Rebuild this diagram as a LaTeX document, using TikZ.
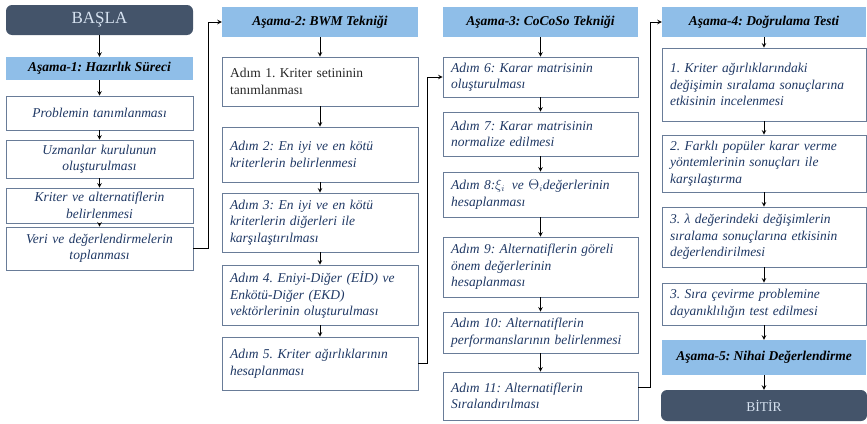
\documentclass[tikz,border=0pt]{standalone}
\usepackage{fontspec}
\setmainfont{Liberation Serif}
\usepackage{tikz}
\usepackage{xcolor}
\definecolor{koyu}{RGB}{68,84,106}
\definecolor{acik}{RGB}{143,190,232}
\definecolor{lacivert}{RGB}{31,56,100}
\definecolor{kenar}{RGB}{105,124,152}
\definecolor{yazi}{RGB}{214,226,240}
\frenchspacing
\tikzset{
  >=stealth,
  kutu/.style={draw=kenar, line width=0.8pt, text=lacivert, inner xsep=8pt, inner ysep=2pt,
    font=\fontsize{13.5}{16.5}\selectfont\itshape},
  orta/.style 2 args={kutu, text width=#1, align=center, minimum height=#2},
  adim/.style 2 args={kutu, text width=#1, align=left, minimum height=#2},
  baslik/.style 2 args={fill=acik, minimum width=#1, minimum height=#2,
    font=\fontsize{13.5}{16}\selectfont\bfseries\itshape},
  uc/.style 2 args={fill=koyu, rounded corners=6pt, text=yazi, minimum width=#1, minimum height=#2},
  ok/.style={->, line width=1pt}
}

\begin{document}
\begin{tikzpicture}[x=1pt, y=-1pt]
        \useasboundingbox (0,0) rectangle (867,423);
        % Asama-1
        \node[uc={187pt}{30pt}, font=\fontsize{17}{20}\selectfont] (basla) at (99.5,20) {BAŞLA};
        \node[baslik={187pt}{23pt}] (a1) at (99.5,68.5) {Aşama-1: Hazırlık Süreci};
        \node[orta={171pt}{34pt}] (p1) at (99.5,113) {Problemin tanımlanması};
        \node[orta={171pt}{38pt}] (p2) at (99.5,159) {Uzmanlar kurulunun\\ oluşturulması};
        \node[orta={171pt}{35pt}] (p3) at (99.5,205.5) {Kriter ve alternatiflerin\\ belirlenmesi};
        \node[orta={171pt}{43pt}] (p4) at (99.5,248.5) {Veri ve değerlendirmelerin\\ toplanması};
        % Asama-2
        \node[baslik={196pt}{30pt}] (a2) at (320,22) {Aşama-2: BWM Tekniği};
        \node[adim={180pt}{49pt}, font=\fontsize{13.5}{16.5}\selectfont, text=black!85] (s1) at (320,81.5) {Adım 1. Kriter setininin\\ tanımlanması};
        \node[adim={180pt}{55pt}] (s2) at (320,154.5) {Adım 2: En iyi ve en kötü\\ kriterlerin belirlenmesi};
        \node[adim={180pt}{59pt}] (s3) at (320,222.5) {Adım 3: En iyi ve en kötü\\ kriterlerin diğerleri ile\\ karşılaştırılması};
        \node[adim={180pt}{60pt}] (s4) at (320,295) {Adım 4. Eniyi-Diğer (EİD) ve\\ Enkötü-Diğer (EKD)\\ vektörlerinin oluşturulması};
        \node[adim={180pt}{53pt}] (s5) at (320,363.5) {Adım 5. Kriter ağırlıklarının\\ hesaplanması};
        % Asama-3
        \node[baslik={195pt}{30pt}] (a3) at (540.5,22) {Aşama-3: CoCoSo Tekniği};
        \node[adim={179pt}{40pt}] (s6) at (540.5,77) {Adım 6: Karar matrisinin\\ oluşturulması};
        \node[adim={179pt}{44pt}] (s7) at (540.5,134) {Adım 7: Karar matrisinin\\ normalize edilmesi};
        \node[adim={179pt}{45pt}] (s8) at (540.5,194.5) {Adım 8:$\xi_i$\, ve $\Theta_i$değerlerinin\\ hesaplanması};
        \node[adim={179pt}{60pt}] (s9) at (540.5,267) {Adım 9: Alternatiflerin göreli\\ önem değerlerinin\\ hesaplanması};
        \node[adim={179pt}{41pt}] (s10) at (540.5,332.5) {Adım 10: Alternatiflerin\\ performanslarının belirlenmesi};
        \node[adim={179pt}{48pt}] (s11) at (540.5,396) {Adım 11: Alternatiflerin\\ Sıralandırılması};
        % Asama-4 ve 5
        \node[baslik={204pt}{30pt}] (a4) at (764,22) {Aşama-4: Doğrulama Testi};
        \node[adim={188pt}{73pt}] (v1) at (764,84.5) {1. Kriter ağırlıklarındaki\\ değişimin sıralama sonuçlarına\\ etkisinin incelenmesi};
        \node[adim={188pt}{57pt}] (v2) at (764,163.5) {2. Farklı popüler karar verme\\ yöntemlerinin sonuçları ile\\ karşılaştırma};
        \node[adim={188pt}{60pt}] (v3) at (764,237) {3. λ değerindeki değişimlerin\\ sıralama sonuçlarına etkisinin\\ değerlendirilmesi};
        \node[adim={188pt}{42pt}] (v4) at (764,304) {3. Sıra çevirme problemine\\ dayanıklılığın test edilmesi};
        \node[baslik={204pt}{35pt}] (a5) at (764,357.5) {Aşama-5: Nihai Değerlendirme};
        \node[uc={206pt}{31pt}, font=\fontsize{13.5}{16}\selectfont] (bitir) at (764,405.5) {BİTİR};
        % oklar
        \foreach \a/\b in {basla/a1, a1/p1, p1/p2, p2/p3, p3/p4, a2/s1, s1/s2, s2/s3, s3/s4, s4/s5,
            a3/s6, s6/s7, s7/s8, s8/s9, s9/s10, s10/s11, a4/v1, v1/v2, v2/v3, v3/v4, v4/a5, a5/bitir}
            \draw[ok] (\a) -- (\b);
        \draw[ok] (p4.east) -- ++(15,0) |- (a2.west);
        \draw[ok] (s5.east) -- ++(9,0) |- (s6.west);
        \draw[ok] ([yshift=9pt]s11.east) -- ++(12,0) |- (a4.west);
    \end{tikzpicture}
\end{document}
